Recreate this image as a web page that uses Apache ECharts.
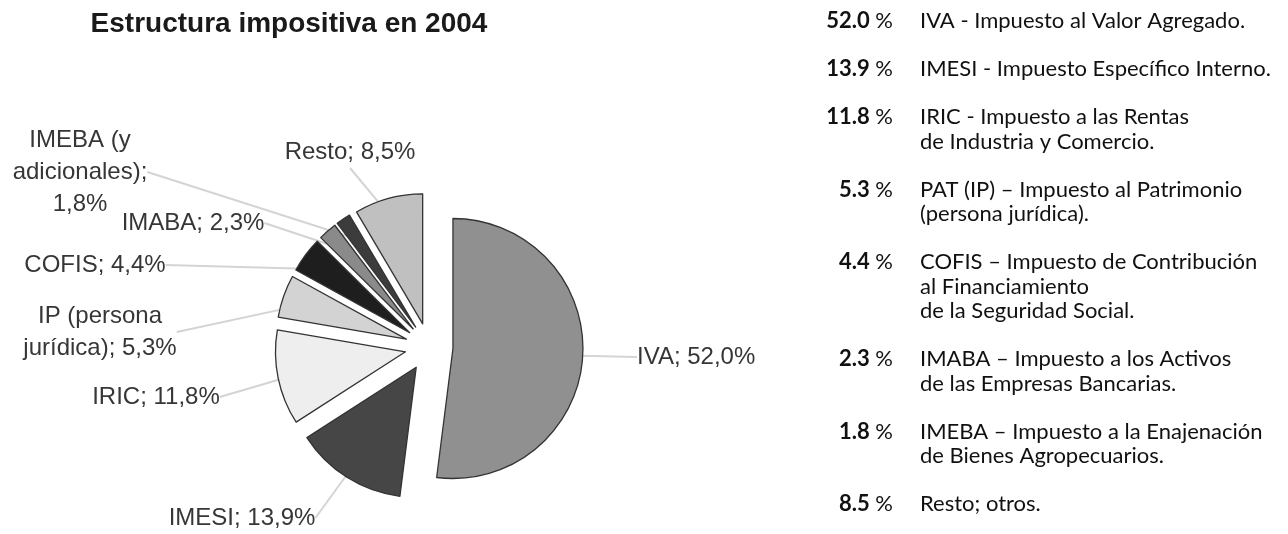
<!DOCTYPE html>
<html>
<head>
<meta charset="utf-8">
<script src="https://cdn.jsdelivr.net/npm/echarts@6/dist/echarts.min.js"></script>
<style>
  html, body { margin: 0; padding: 0; background: #fff; }
  #main { width: 1288px; height: 534px; }
</style>
</head>
<body>
<div id="main"></div>
<script>
// slices, clockwise from 12 o'clock
const sliceNames = ['IVA', 'IMESI', 'IRIC', 'IP (persona\njurídica)', 'COFIS', 'IMABA', 'IMEBA (y\nadicionales)', 'Resto']
const sliceValues = [52.0, 13.9, 11.8, 5.3, 4.4, 2.3, 1.8, 8.5]
const labelSep = ['; ', '; ', '; ', '; ', '; ', '; ', ';\n', '; ']

// text list on the right (same order as the slices)
const listText = [
  'IVA - Impuesto al Valor Agregado.',
  'IMESI - Impuesto Específico Interno.',
  'IRIC - Impuesto a las Rentas\nde Industria y Comercio.',
  'PAT (IP) – Impuesto al Patrimonio\n(persona jurídica).',
  'COFIS – Impuesto de Contribución\nal Financiamiento\nde la Seguridad Social.',
  'IMABA – Impuesto a los Activos\nde las Empresas Bancarias.',
  'IMEBA – Impuesto a la Enajenación\nde Bienes Agropecuarios.',
  'Resto; otros.'
]

const greys = ['#909090', '#464646', '#eeeeee', '#d3d3d3', '#1e1e1e', '#8a8a8a', '#3c3c3c', '#c0c0c0']
// where the data labels sit (dragged by hand in the original chart)
const labelSpots = [[637, 357, 'left'], [242, 518], [156, 397], [100, 332], [95, 265], [193, 223], [80, 172], [350, 152]]

let myChart = echarts.init(document.getElementById('main'))

const fmt = (v) => v.toFixed(1).replace('.', ',')

let listGraphic = []
let listY = 9
listText.forEach((txt, i) => {
  listGraphic.push({
    type: 'text',
    x: 893,
    y: listY,
    style: {
      text: '{b|' + sliceValues[i].toFixed(1) + '} %',
      font: '22px Lato',
      fill: '#111',
      align: 'right',
      verticalAlign: 'top',
      lineHeight: 24.5,
      rich: { b: { font: 'bold 22px Lato', fill: '#111', lineHeight: 24.5 } },
    },
  })
  listGraphic.push({
    type: 'text',
    x: 920,
    y: listY,
    style: {
      text: txt,
      font: '22px Lato',
      fill: '#111',
      align: 'left',
      verticalAlign: 'top',
      lineHeight: 24.5,
    },
  })
  listY += (txt.split('\n').length - 1) * 24.5 + 48
})

const pieBase = {
  type: 'pie',
  center: [429, 347],
  radius: 130,
  startAngle: 90,
  clockwise: true,
  silent: true,
  emphasis: { disabled: true },
}

myChart.setOption({
  animation: false,
  title: {
    text: 'Estructura impositiva en 2004',
    left: 284,
    top: 5,
    textAlign: 'center',
    textStyle: { fontFamily: 'Liberation Sans', fontWeight: 'bold', fontSize: 28, color: '#1a1a1a' },
  },
  graphic: listGraphic,
  series: [
    // exploded slices
    Object.assign({}, pieBase, {
      z: 3,
      selectedMode: 'multiple',
      selectedOffset: 24,
      itemStyle: { borderColor: '#333', borderWidth: 1.3 },
      select: { itemStyle: { borderColor: '#333', borderWidth: 1.3 } },
      label: { show: false },
      labelLine: { show: false },
      data: sliceValues.map((v, i) => ({
        name: sliceNames[i],
        value: v,
        selected: true,
        itemStyle: { color: greys[i] },
        select: { itemStyle: { color: greys[i] } },
      })),
    }),
    // same slices, unexploded and invisible, carrying the labels and leader lines
    Object.assign({}, pieBase, {
      z: 2,
      itemStyle: { color: 'rgba(0,0,0,0)', borderWidth: 0 },
      label: {
        show: true,
        position: 'outside',
        fontFamily: 'Liberation Sans',
        fontSize: 24,
        color: '#363636',
        lineHeight: 32,
        align: 'center',
        formatter: (p) => p.name + labelSep[p.dataIndex] + fmt(p.value) + '%',
      },
      labelLine: { show: true, length: 10, length2: 0, lineStyle: { color: '#d4d4d4', width: 2 } },
      labelLayout: (params) => {
        const s = labelSpots[params.dataIndex]
        return { x: s[0], y: s[1], align: s[2] || 'center', verticalAlign: 'middle' }
      },
      data: sliceValues.map((v, i) => ({ name: sliceNames[i], value: v })),
    }),
  ],
})

window.addEventListener('resize', () => {
  myChart.resize()
})
</script>
</body>
</html>
